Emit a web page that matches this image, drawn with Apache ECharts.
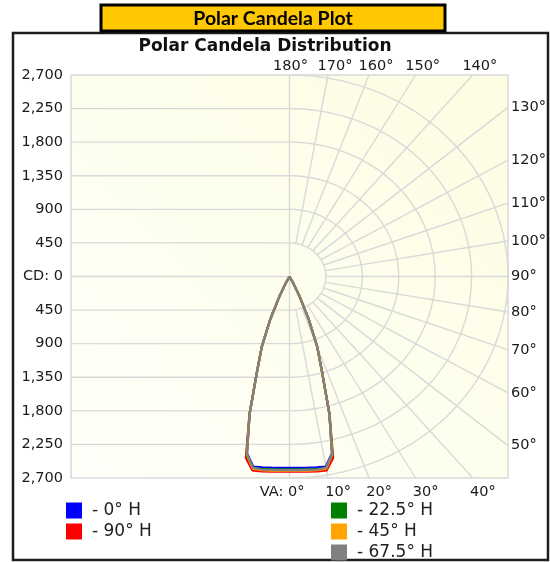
<!DOCTYPE html>
<html>
<head>
<meta charset="utf-8">
<script src="https://cdn.jsdelivr.net/npm/echarts@6/dist/echarts.min.js"></script>
<style>
html,body{margin:0;padding:0;background:#fff;}
#c{width:550px;height:562px;}
</style>
</head>
<body>
<div id="c"></div>
<script>
// ---- data ----
const verticalAngles = [0, 2.5, 5, 7.5, 10, 12.5, 15, 17.5, 20, 22.5, 25, 27.5, 30, 35, 40, 45, 50, 55, 60, 65, 70, 75, 80, 85, 90];
const cdH0    = [2565, 2566, 2572, 2580, 2585, 2425, 1900, 1330, 1000, 620, 300, 100, 0, 0, 0, 0, 0, 0, 0, 0, 0, 0, 0, 0, 0];
const cdH90   = [2615, 2616, 2625, 2635, 2640, 2490, 1915, 1338, 1003, 622, 300, 100, 0, 0, 0, 0, 0, 0, 0, 0, 0, 0, 0, 0, 0];
const cdH22_5 = [2585, 2586, 2592, 2602, 2605, 2455, 1908, 1334, 1000, 620, 300, 100, 0, 0, 0, 0, 0, 0, 0, 0, 0, 0, 0, 0, 0];
const cdH45   = [2603, 2604, 2610, 2618, 2615, 2440, 1900, 1330, 1000, 620, 300, 100, 0, 0, 0, 0, 0, 0, 0, 0, 0, 0, 0, 0, 0];
const cdH67_5 = [2595, 2596, 2600, 2610, 2600, 2430, 1900, 1330, 1000, 620, 300, 100, 0, 0, 0, 0, 0, 0, 0, 0, 0, 0, 0, 0, 0];
const seriesNames  = ['0° H', '90° H', '22.5° H', '45° H', '67.5° H'];
const seriesColors = ['#0000ff', '#ff0000', '#008000', '#ffa500', '#808080'];
const seriesValues = [cdH0, cdH90, cdH22_5, cdH45, cdH67_5];
const cdMax = 2700;
const cdStep = 450;
const ringValues = [450, 900, 1350, 1800, 2250, 2700];
const spokeAngles = [10, 20, 30, 40, 50, 60, 70, 80, 90, 100, 110, 120, 130, 140, 150, 160, 170];
const angleLabels = [0, 10, 20, 30, 40, 50, 60, 70, 80, 90, 100, 110, 120, 130, 140, 150, 160, 170, 180];

const rad = d => d * Math.PI / 180;
const chart = echarts.init(document.getElementById('c'), null, {renderer: 'canvas'});
const gridColor = '#d9d9d9';
const labelFont = 'DejaVu Sans';

function gridLine(pts) {
  return {type: 'line', data: pts, symbol: 'none', silent: true, z: 1,
    lineStyle: {color: gridColor, width: 1.4}, legendHoverLink: false, animation: false};
}
const series = [];
for (let v = -cdMax + cdStep; v < cdMax; v += cdStep) {
  series.push(gridLine([[-cdMax, v], [0, v]]));
}
series.push(gridLine([[0, -cdMax], [0, cdMax]]));
ringValues.forEach(r => {
  const pts = [];
  for (let a = 0; a <= 180; a += 2) pts.push([r * Math.sin(rad(a)), -r * Math.cos(rad(a))]);
  series.push(gridLine(pts));
});
spokeAngles.forEach(a => {
  const s = Math.sin(rad(a)), c = Math.cos(rad(a));
  const rEnd = Math.min(cdMax / Math.abs(s), Math.abs(c) > 1e-9 ? cdMax / Math.abs(c) : Infinity);
  series.push(gridLine([[ringValues[0] * s, -ringValues[0] * c], [rEnd * s, -rEnd * c]]));
});
seriesValues.forEach((vals, k) => {
  const pts = [];
  for (let i = 0; i < vals.length; i++) {
    const a = rad(verticalAngles[i]);
    pts.push([vals[i] * Math.sin(a), -vals[i] * Math.cos(a)]);
  }
  for (let i = vals.length - 1; i >= 0; i--) {
    const a = rad(verticalAngles[i]);
    pts.push([-vals[i] * Math.sin(a), -vals[i] * Math.cos(a)]);
  }
  series.push({
    name: seriesNames[k], type: 'line', data: pts, symbol: 'none', z: 5,
    color: seriesColors[k], itemStyle: {color: seriesColors[k]},
    lineStyle: {color: seriesColors[k], width: 2.2}, animation: false
  });
});

const legendCommon = {
  orient: 'vertical', itemWidth: 16, itemHeight: 16, itemGap: 4, icon: 'rect', padding: 0,
  height: 80,
  formatter: n => '- ' + n,
  textStyle: {fontFamily: labelFont, fontSize: 17, color: '#222', lineHeight: 16, padding: [0, 0, 0, 5]},
  selectedMode: false
};

chart.setOption({
  animation: false,
  backgroundColor: '#ffffff',
  grid: {left: 71, right: 42, top: 75, bottom: 84, show: true, borderColor: gridColor, borderWidth: 1.5,
    backgroundColor: {type: 'linear', x: 0, y: 1, x2: 1, y2: 0,
      colorStops: [{offset: 0, color: '#fffffa'}, {offset: 1, color: '#fdfde2'}]}},
  xAxis: {type: 'value', min: -cdMax, max: cdMax, show: false},
  yAxis: {type: 'value', min: -cdMax, max: cdMax, interval: cdStep,
    axisLine: {show: false}, axisTick: {show: false}, splitLine: {show: false},
    axisLabel: {margin: 8, fontFamily: labelFont, fontSize: 14.5, color: '#1a1a1a',
      formatter: v => v === 0 ? 'CD: 0' : Math.abs(v).toLocaleString('en-US')}},
  legend: [
    Object.assign({}, legendCommon, {left: 66, top: 502, data: ['0° H', '90° H']}),
    Object.assign({}, legendCommon, {left: 331, top: 502, data: ['22.5° H', '45° H', '67.5° H']})
  ],
  series: series
});

const g = [];
g.push({type: 'rect', shape: {x: 13, y: 33, width: 535, height: 527}, silent: true, z: -1,
  style: {fill: 'none', stroke: '#1e1e1e', lineWidth: 2.5}});
g.push({type: 'rect', shape: {x: 101, y: 5, width: 344, height: 26}, silent: true,
  style: {fill: '#ffc800', stroke: '#000', lineWidth: 3}});
g.push({type: 'text', x: 273, y: 18.5, silent: true,
  style: {text: 'Polar Candela Plot', font: '700 19.5px Lato', fill: '#000', align: 'center', verticalAlign: 'middle'}});
g.push({type: 'text', x: 265, y: 47, silent: true,
  style: {text: 'Polar Candela Distribution', font: 'bold 17px "DejaVu Sans"', fill: '#111', align: 'center', verticalAlign: 'middle'}});
angleLabels.forEach(a => {
  let p, x, y, align = 'center';
  const t = Math.tan(rad(a));
  if (a <= 40) {
    p = chart.convertToPixel({gridIndex: 0}, [cdMax * t, -cdMax]);
    y = p[1] + 14;
    if (a === 0) { x = p[0] + 15; align = 'right'; } else { x = p[0] + 10; }
  } else if (a <= 130) {
    p = chart.convertToPixel({gridIndex: 0}, [cdMax, -cdMax / t]);
    x = p[0] + 3; y = p[1]; align = 'left';
  } else {
    p = chart.convertToPixel({gridIndex: 0}, [cdMax * Math.tan(rad(180 - a)), cdMax]);
    x = p[0] + (a === 180 ? 1 : 7); y = p[1] - 9;
  }
  g.push({type: 'text', x: x, y: y, silent: true,
    style: {text: (a === 0 ? 'VA: ' : '') + a + '°', font: '14.5px "DejaVu Sans"', fill: '#1a1a1a',
      align: align, verticalAlign: 'middle'}});
});
chart.setOption({graphic: g});
</script>
</body>
</html>
